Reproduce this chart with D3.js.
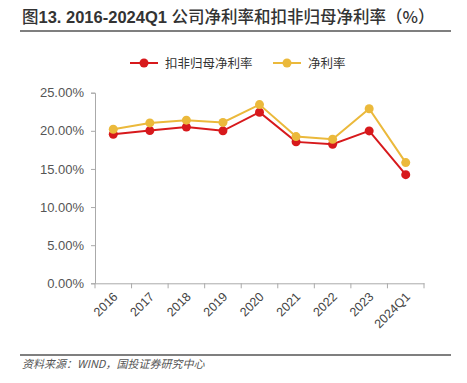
<!DOCTYPE html>
<html>
<head>
<meta charset="utf-8">
<script src="https://cdn.jsdelivr.net/npm/d3@7"></script>
<style>
  body { margin: 0; background: #fff; }
  svg { display: block; font-family: "Noto Sans CJK SC", "Liberation Sans", sans-serif; }
</style>
</head>
<body>
<svg id="chart" width="467" height="383"></svg>
<script>
  // ---- data ----
  const categories = ["2016", "2017", "2018", "2019", "2020", "2021", "2022", "2023", "2024Q1"];
  const koufei = [19.55, 20.03, 20.5, 20.0, 22.44, 18.55, 18.24, 19.99, 14.25];   // 扣非归母净利率
  const jingli = [20.2, 21.04, 21.4, 21.1, 23.44, 19.24, 18.9, 22.9, 15.83];      // 净利率
  const yTicks = [0, 5, 10, 15, 20, 25];
  const seriesNames = ["扣非归母净利率", "净利率"];
  const colors = ["#d7191c", "#ebb93b"];

  const svg = d3.select("#chart");

  const margin = { top: 92.7, left: 95, right: 43, bottom: 99.7 };
  const innerW = 467 - margin.left - margin.right;
  const innerH = 383 - margin.top - margin.bottom;

  // title
  const title = svg.append("text")
    .attr("x", 22).attr("y", 22.5)
    .attr("font-size", 16.5).attr("fill", "#333");
  title.append("tspan").attr("font-weight", 500).text("图");
  title.append("tspan").attr("font-weight", "bold").attr("font-family", "Liberation Sans, sans-serif")
    .text("13. 2016-2024Q1 ");
  title.append("tspan").attr("font-weight", 500).text("公司净利率和扣非归母净利率（%）");
  svg.append("line")
    .attr("x1", 20).attr("x2", 451).attr("y1", 31).attr("y2", 31)
    .attr("stroke", "#000").attr("stroke-width", 1.2);

  const g = svg.append("g").attr("transform", `translate(${margin.left},${margin.top})`);

  const x = d3.scaleBand().domain(categories).range([0, innerW]);
  const y = d3.scaleLinear().domain([0, 25]).range([innerH, 0]);

  // y axis
  const yAxis = g.append("g")
    .call(d3.axisLeft(y).tickValues(yTicks).tickSize(4).tickFormat(d => d.toFixed(2) + "%"));
  yAxis.select(".domain").attr("stroke", "#aaa");
  yAxis.selectAll(".tick line").attr("stroke", "#aaa");
  yAxis.selectAll("text").attr("fill", "#555").attr("font-size", 13)
    .attr("font-family", "Liberation Sans, sans-serif").attr("x", -11);

  // x axis
  const xAxis = g.append("g").attr("transform", `translate(0,${innerH})`)
    .call(d3.axisBottom(x).tickSize(0).tickFormat(""));
  xAxis.select(".domain").attr("stroke", "#aaa");
  xAxis.selectAll(".tick").remove();
  const bounds = categories.map(c => x(c)).concat([innerW]);
  xAxis.selectAll(".sep").data(bounds).enter().append("line")
    .attr("x1", d => d).attr("x2", d => d).attr("y1", 0).attr("y2", 5)
    .attr("stroke", "#aaa");
  xAxis.selectAll(".lbl").data(categories).enter().append("text")
    .attr("transform", d => `translate(${x(d) + x.bandwidth() / 2 - 1},${8}) rotate(-45)`)
    .attr("text-anchor", "end").attr("dy", "0.7em")
    .attr("font-size", 12.5).attr("fill", "#444")
    .attr("font-family", "Liberation Sans, sans-serif")
    .text(d => d);

  // lines
  const line = d3.line().x((d, i) => x(categories[i]) + x.bandwidth() / 2).y(d => y(d));
  [koufei, jingli].forEach((s, k) => {
    g.append("path").datum(s).attr("d", line)
      .attr("fill", "none").attr("stroke", colors[k]).attr("stroke-width", 2);
    g.selectAll(".dot" + k).data(s).enter().append("circle")
      .attr("cx", (d, i) => x(categories[i]) + x.bandwidth() / 2)
      .attr("cy", d => y(d)).attr("r", 4.5).attr("fill", colors[k]);
  });

  // legend
  const legend = [{ x: 130, tx: 165 }, { x: 273, tx: 308 }];
  legend.forEach((l, k) => {
    svg.append("line").attr("x1", l.x).attr("x2", l.x + 28).attr("y1", 63).attr("y2", 63)
      .attr("stroke", colors[k]).attr("stroke-width", 2);
    svg.append("circle").attr("cx", l.x + 14).attr("cy", 63).attr("r", 4.5).attr("fill", colors[k]);
    svg.append("text").attr("x", l.tx).attr("y", 67.5).attr("font-size", 12.5).attr("fill", "#333")
      .text(seriesNames[k]);
  });

  // footer
  svg.append("line")
    .attr("x1", 20).attr("x2", 451).attr("y1", 355).attr("y2", 355)
    .attr("stroke", "#000").attr("stroke-width", 1.2);
  svg.append("text")
    .attr("x", 22).attr("y", 368)
    .attr("font-size", 11).attr("font-style", "italic").attr("fill", "#555")
    .text("资料来源：WIND，国投证券研究中心");
</script>
</body>
</html>
